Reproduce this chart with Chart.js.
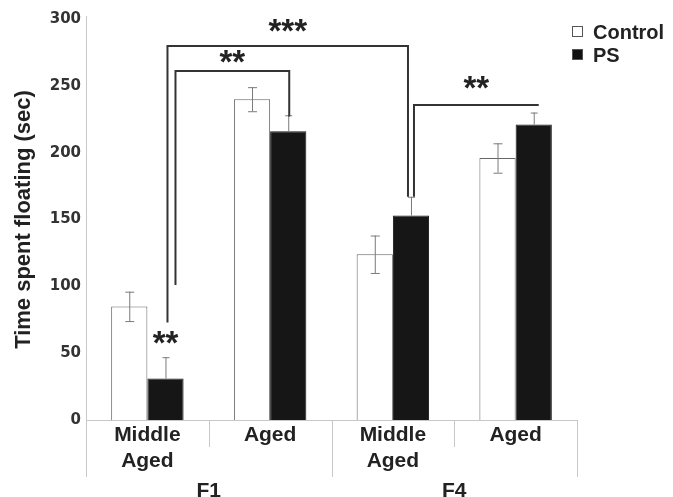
<!DOCTYPE html>
<html>
<head>
<meta charset="utf-8">
<script src="https://cdn.jsdelivr.net/npm/chart.js@4"></script>
<style>
  html, body { margin: 0; padding: 0; background: #fff; }
  #wrap { width: 673px; height: 497px; }
</style>
</head>
<body>
<div id="wrap"><canvas id="myChart" width="673" height="497"></canvas></div>
<script>
// ==== data
const categories = [['Middle', 'Aged'], 'Aged', ['Middle', 'Aged'], 'Aged'];
const groups = ['F1', 'F4'];
const controlValues = [85, 240, 124, 196];
const controlErrors = [11, 9, 14, 11];
const psValues = [31, 216, 153, 221];
const psErrors = [16, 12, 14, 9];
const yTicks = [0, 50, 100, 150, 200, 250, 300];

// significance brackets (category index of PS bars, data units)
const bracketStars = ['***', '**', '**'];
const bracketLevel = [280, 261, 236];
const bracketFrom = [0, 0, 2];
const bracketTo = [2, 1, 3];
const bracketFromDrop = [73, 101, 167];
const bracketToDrop = [167, 227, null];
// star next to the F1 middle aged PS bar
const barStarValue = 62;

// leg offsets in px so the nested brackets don't sit on top of each other
const legShiftFrom = [2, 10, 3];
const legShiftTo = [-3, 1, 5];
// how high the stars sit above each bracket line
const starLift = [4, -2, 6];

const ink = '#222';
const faint = '#c8c8c8';

const annotations = {
  id: 'annotations',
  afterDatasetsDraw(chart) {
    const ctx = chart.ctx;
    const x = chart.scales.x;
    const y = chart.scales.y;
    const ctrl = chart.getDatasetMeta(0).data;
    const ps = chart.getDatasetMeta(1).data;

    ctx.save();

    // error bars
    ctx.strokeStyle = '#7a7a7a';
    ctx.lineWidth = 1;
    ctrl.forEach((bar, i) => {
      const top = y.getPixelForValue(controlValues[i] + controlErrors[i]);
      const bot = y.getPixelForValue(controlValues[i] - controlErrors[i]);
      ctx.beginPath();
      ctx.moveTo(bar.x + 0.5, top); ctx.lineTo(bar.x + 0.5, bot);
      ctx.moveTo(bar.x - 4, top + 0.5); ctx.lineTo(bar.x + 5, top + 0.5);
      ctx.moveTo(bar.x - 4, bot + 0.5); ctx.lineTo(bar.x + 5, bot + 0.5);
      ctx.stroke();
    });
    ps.forEach((bar, i) => {
      const top = y.getPixelForValue(psValues[i] + psErrors[i]);
      const base = y.getPixelForValue(psValues[i]);
      ctx.beginPath();
      ctx.moveTo(bar.x + 0.5, top); ctx.lineTo(bar.x + 0.5, base);
      ctx.moveTo(bar.x - 3, top + 0.5); ctx.lineTo(bar.x + 4, top + 0.5);
      ctx.stroke();
    });

    // brackets
    ctx.strokeStyle = '#333';
    ctx.lineWidth = 2;
    ctx.fillStyle = ink;
    ctx.font = 'bold 33px "Liberation Sans", Arial, sans-serif';
    ctx.textAlign = 'center';
    ctx.textBaseline = 'alphabetic';
    bracketStars.forEach((stars, k) => {
      const x1 = ps[bracketFrom[k]].x + legShiftFrom[k];
      const x2 = ps[bracketTo[k]].x + legShiftTo[k];
      const yl = Math.round(y.getPixelForValue(bracketLevel[k]));
      ctx.beginPath();
      ctx.moveTo(x1, y.getPixelForValue(bracketFromDrop[k]));
      ctx.lineTo(x1, yl);
      ctx.lineTo(x2, yl);
      if (bracketToDrop[k] !== null) ctx.lineTo(x2, y.getPixelForValue(bracketToDrop[k]));
      ctx.stroke();
      ctx.fillText(stars, (x1 + x2) / 2, yl - starLift[k]);
    });
    ctx.fillText('**', ps[0].x, y.getPixelForValue(barStarValue) + 17);

    // category / group ticks below the axis
    const half = (x.getPixelForValue(1) - x.getPixelForValue(0)) / 2;
    ctx.strokeStyle = faint;
    ctx.lineWidth = 1;
    const bottom = chart.chartArea.bottom;
    for (let i = 0; i <= categories.length; i++) {
      const px = Math.round(x.getPixelForValue(i) - half) + 0.5;
      const long = i % 2 === 0;
      ctx.beginPath();
      ctx.moveTo(px, bottom);
      ctx.lineTo(px, bottom + (long ? 57 : 27));
      ctx.stroke();
    }
    // y axis line extends up a little above 300
    ctx.beginPath();
    ctx.moveTo(chart.chartArea.left + 0.5, y.getPixelForValue(300) - 3);
    ctx.lineTo(chart.chartArea.left + 0.5, bottom);
    ctx.stroke();

    // group labels
    ctx.fillStyle = ink;
    ctx.font = 'bold 21px "Liberation Sans", Arial, sans-serif';
    groups.forEach((g, gi) => {
      const cx = (x.getPixelForValue(gi * 2) + x.getPixelForValue(gi * 2 + 1)) / 2;
      ctx.fillText(g, cx, 497);
    });

    // legend
    const labels = chart.data.datasets.map(d => d.label);
    const lx = chart.chartArea.right - 5;
    ctx.textAlign = 'left';
    ctx.font = 'bold 20px "Liberation Sans", Arial, sans-serif';
    labels.forEach((lab, i) => {
      const ly = 31 + i * 23;
      ctx.fillStyle = i === 0 ? '#fff' : '#111';
      ctx.fillRect(lx, ly - 5, 11, 11);
      ctx.strokeStyle = '#555';
      ctx.lineWidth = 1;
      ctx.strokeRect(lx + 0.5, ly - 4.5, 10, 10);
      ctx.fillStyle = ink;
      ctx.fillText(lab, lx + 21, ly + 8);
    });

    ctx.restore();
  }
};

const data = {
  labels: categories,
  datasets: [{
      label: 'Control',
      data: controlValues,
      backgroundColor: '#ffffff',
      borderColor: '#666',
      borderWidth: 1,
      barPercentage: 1.0,
      categoryPercentage: 0.59
    },
    {
      label: 'PS',
      data: psValues,
      backgroundColor: '#161616',
      borderColor: '#161616',
      borderWidth: 1,
      barPercentage: 1.0,
      categoryPercentage: 0.59
    }
  ]
};

const config = {
  type: 'bar',
  data,
  options: {
    responsive: false,
    animation: false,
    devicePixelRatio: 1,
    layout: {
      padding: { left: 0, right: 96, top: 19, bottom: 0 }
    },
    plugins: {
      legend: { display: false },
      tooltip: { enabled: false }
    },
    scales: {
      x: {
        grid: { display: false, drawTicks: false },
        border: { color: faint },
        ticks: {
          color: ink,
          padding: 3,
          font: { family: '"Liberation Sans", Arial, sans-serif', size: 21, weight: 'bold', lineHeight: 1.2 }
        },
        afterFit: (scale) => { scale.height = 77; }
      },
      y: {
        min: 0,
        max: 300,
        afterBuildTicks: (scale) => { scale.ticks = yTicks.map(v => ({ value: v })); },
        grid: { display: false, drawTicks: false },
        border: { color: faint },
        ticks: {
          color: '#333',
          padding: 5,
          font: { family: '"DejaVu Sans", sans-serif', size: 15, weight: 'bold' }
        },
        title: {
          display: true,
          text: 'Time spent floating (sec)',
          color: ink,
          padding: { top: 11, bottom: 0 },
          font: { family: '"Liberation Sans", Arial, sans-serif', size: 22, weight: 'bold' }
        },
        afterFit: (scale) => { scale.width = 86; }
      }
    }
  },
  plugins: [annotations]
};

const myChart = new Chart(document.getElementById('myChart'), config);
</script>
</body>
</html>
